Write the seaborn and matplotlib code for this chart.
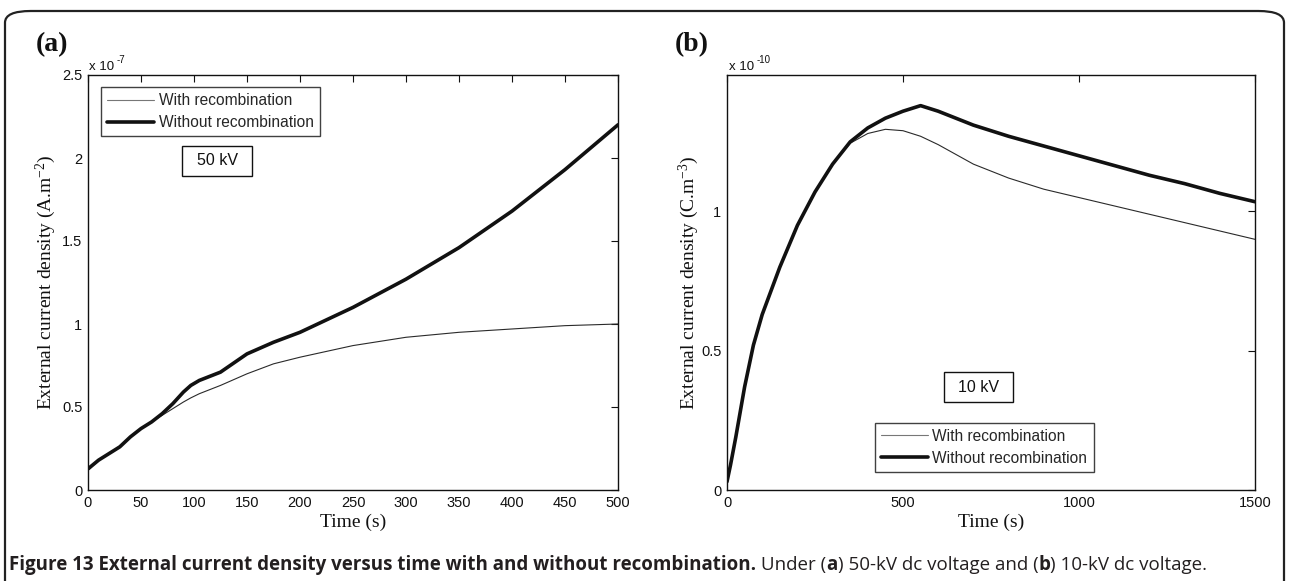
import numpy as np
import pandas as pd
import matplotlib
matplotlib.use("Agg")
import matplotlib.pyplot as plt
from matplotlib.patches import FancyBboxPatch, Rectangle
import seaborn as sns

# ---------------- data ----------------
series_names = ["With recombination", "Without recombination"]

# Panel (a): 50 kV, values in units of 1e-7 A.m^-2
a_time = [0, 0.5, 10, 20, 30, 40, 50, 60, 70, 80, 90, 97, 105, 125, 150, 175,
          200, 250, 300, 350, 400, 450, 500]
a_with = [0.34, 0.12, 0.18, 0.22, 0.26, 0.32, 0.37, 0.41, 0.45, 0.49, 0.53, 0.555,
          0.58, 0.63, 0.70, 0.76, 0.80, 0.87, 0.92, 0.95, 0.97, 0.99, 1.00]
a_without = [0.13, 0.13, 0.18, 0.22, 0.26, 0.32, 0.37, 0.41, 0.46, 0.52, 0.59, 0.63,
             0.66, 0.71, 0.82, 0.89, 0.95, 1.10, 1.27, 1.46, 1.68, 1.93, 2.20]

# Panel (b): 10 kV, values in units of 1e-10 C.m^-3
b_time = [0, 10, 25, 50, 75, 100, 150, 200, 250, 300, 350, 400, 450, 500, 550,
          600, 700, 800, 900, 1000, 1100, 1200, 1300, 1400, 1500]
b_with = [0.03, 0.09, 0.19, 0.37, 0.52, 0.63, 0.80, 0.95, 1.07, 1.17, 1.245, 1.28,
          1.295, 1.29, 1.27, 1.24, 1.17, 1.12, 1.08, 1.05, 1.02, 0.99, 0.96, 0.93, 0.90]
b_without = [0.03, 0.09, 0.19, 0.37, 0.52, 0.63, 0.80, 0.95, 1.07, 1.17, 1.25, 1.30,
             1.335, 1.36, 1.38, 1.36, 1.31, 1.27, 1.235, 1.20, 1.165, 1.13, 1.10, 1.065, 1.035]

a_xticks = [0, 50, 100, 150, 200, 250, 300, 350, 400, 450, 500]
a_yticks = [0, 0.5, 1, 1.5, 2, 2.5]
a_yticklabels = ["0", "0.5", "1", "1.5", "2", "2.5"]
b_xticks = [0, 500, 1000, 1500]
b_yticks = [0, 0.5, 1]
b_yticklabels = ["0", "0.5", "1"]

# ---------------- style ----------------
sns.set_style("white")
plt.rcParams["font.family"] = ["Liberation Sans", "DejaVu Sans"]
plt.rcParams["mathtext.default"] = "regular"

W, H = 1289, 581
fig = plt.figure(figsize=(W / 100, H / 100), dpi=100)
fig.patch.set_facecolor("white")

def px_ax(l, r, t, b):
    return [l / W, 1 - b / H, (r - l) / W, (b - t) / H]

ax_a = fig.add_axes(px_ax(88, 618, 75, 490))
ax_b = fig.add_axes(px_ax(727, 1255, 75, 490))

thin_kw = dict(color="#2a2a2a", linewidth=0.8)
thick_kw = dict(color="#111111", linewidth=2.6)

def draw(ax, t, w, wo):
    df_w = pd.DataFrame({"t": t, "v": w})
    df_wo = pd.DataFrame({"t": t, "v": wo})
    sns.lineplot(data=df_w, x="t", y="v", ax=ax, label=series_names[0], **thin_kw)
    sns.lineplot(data=df_wo, x="t", y="v", ax=ax, label=series_names[1], **thick_kw)

draw(ax_a, a_time, a_with, a_without)
draw(ax_b, b_time, b_with, b_without)

serif = ["Liberation Serif", "DejaVu Serif"]

for ax in (ax_a, ax_b):
    for s in ax.spines.values():
        s.set_color("#111111")
        s.set_linewidth(1.0)
    ax.tick_params(direction="in", top=True, right=True, length=5, width=0.8,
                   labelsize=10.5, colors="#111111", pad=4)
    ax.set_xlabel("Time (s)", family=serif, fontsize=14, color="#111111", labelpad=3)

ax_a.set_xlim(0, 500)
ax_a.set_ylim(0, 2.5)
ax_a.set_xticks(a_xticks)
ax_a.set_yticks(a_yticks)
ax_a.set_xticklabels([str(v) for v in a_xticks])
ax_a.set_yticklabels(a_yticklabels)
ax_a.set_ylabel("External current density (A.m$^{-2}$)", family=serif, fontsize=14,
                color="#111111", labelpad=3)

ax_b.set_xlim(0, 1500)
ax_b.set_ylim(0, 1.49)
ax_b.set_xticks(b_xticks)
ax_b.set_yticks(b_yticks)
ax_b.set_xticklabels([str(v) for v in b_xticks])
ax_b.set_yticklabels(b_yticklabels)
ax_b.set_ylabel("External current density (C.m$^{-3}$)", family=serif, fontsize=14,
                color="#111111", labelpad=0)

leg_kw = dict(frameon=True, fancybox=False, fontsize=11.2, handlelength=3.0,
              handletextpad=0.3, labelspacing=0.45, borderpad=0.4, borderaxespad=0)
la = ax_a.legend(loc="upper left", bbox_to_anchor=(0.0245, 0.971), **leg_kw)
lb = ax_b.legend(loc="lower left", bbox_to_anchor=(0.280, 0.043), **leg_kw)
for lg in (la, lb):
    lg.get_frame().set_edgecolor("#111111")
    lg.get_frame().set_linewidth(1.0)
    lg.legend_handles[0].set_color("#777777")

def label_box(ax, x0, x1, y0, y1, txt):
    ax.add_patch(Rectangle((x0, y0), x1 - x0, y1 - y0, transform=ax.transAxes,
                           facecolor="white", edgecolor="#111111", linewidth=1.0, zorder=4))
    ax.text((x0 + x1) / 2, (y0 + y1) / 2, txt, transform=ax.transAxes, ha="center",
            va="center", fontsize=11.5, color="#111111", zorder=5)

label_box(ax_a, 0.1774, 0.3094, 0.7566, 0.829, "50 kV")
label_box(ax_b, 0.411, 0.5417, 0.212, 0.284, "10 kV")

# MATLAB-style exponent labels
def exp_label(xpx, exp):
    fig.text(xpx / W, 1 - 70 / H, "x 10", fontsize=9.5, color="#111111", va="baseline")
    fig.text((xpx + 28) / W, 1 - 63 / H, exp, fontsize=7, color="#111111", va="baseline")

exp_label(89, "-7")
exp_label(729, "-10")

# panel letters
fig.text(52 / W, 1 - 45 / H, "(a)", family=serif, fontweight="bold", fontsize=20,
         ha="center", va="center", color="#111111")
fig.text(692 / W, 1 - 45 / H, "(b)", family=serif, fontweight="bold", fontsize=20,
         ha="center", va="center", color="#111111")

# rounded frame (open below the image edge)
frame = FancyBboxPatch((5 / W, -0.2), (W - 10) / W, 1 - 11 / H + 0.2,
                       boxstyle="round,pad=0,rounding_size=0.02",
                       transform=fig.transFigure, facecolor="none",
                       edgecolor="#222222", linewidth=1.6, zorder=-2)
fig.add_artist(frame)

# caption with mixed weights
cap_font = ["Open Sans", "DejaVu Sans"]
pieces = [("Figure 13 External current density versus time with and without recombination.", "bold"),
          (" Under (", "normal"), ("a", "bold"), (") 50-kV dc voltage and (", "normal"),
          ("b", "bold"), (") 10-kV dc voltage.", "normal")]
fig.canvas.draw()
renderer = fig.canvas.get_renderer()
x = 9
for txt, wt in pieces:
    t = fig.text(x / W, 1 - 565 / H, txt, family=cap_font, fontweight=wt, fontsize=13.5,
                 color="#231f20", va="center", ha="left")
    bb = t.get_window_extent(renderer=renderer)
    x += bb.width

fig.savefig("out.png", dpi=100)
